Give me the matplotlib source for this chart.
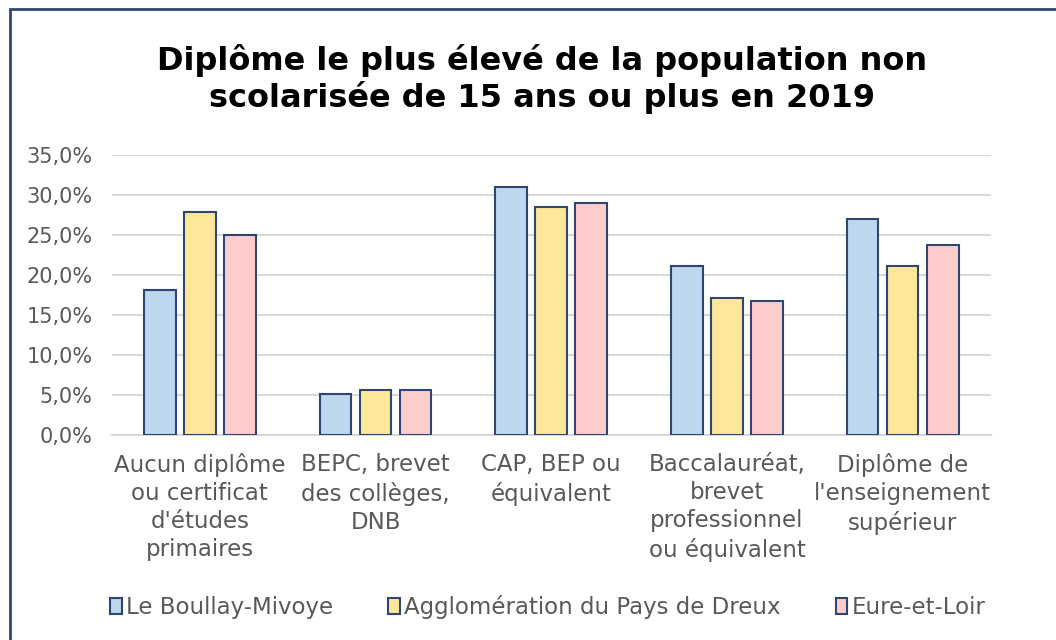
import matplotlib
matplotlib.use("Agg")
import matplotlib.pyplot as plt
import numpy as np
from matplotlib.patches import Rectangle, Patch

categories = [
    "Aucun diplôme\nou certificat\nd'études\nprimaires",
    "BEPC, brevet\ndes collèges,\nDNB",
    "CAP, BEP ou\néquivalent",
    "Baccalauréat,\nbrevet\nprofessionnel\nou équivalent",
    "Diplôme de\nl'enseignement\nsupérieur",
]
series_names = ["Le Boullay-Mivoye", "Agglomération du Pays de Dreux", "Eure-et-Loir"]
boullay = [18.1, 5.1, 31.0, 21.1, 27.0]
dreux = [27.9, 5.6, 28.5, 17.1, 21.1]
eure = [25.0, 5.6, 29.0, 16.7, 23.7]
yticks = [0, 5, 10, 15, 20, 25, 30, 35]

colors = ["#bdd7ee", "#ffe699", "#ffcccc"]
edge = "#2f4670"
grey = "#595959"

plt.rcParams["font.family"] = ["DejaVu Sans"]

fig = plt.figure(figsize=(10.56, 6.4), dpi=100)
ax = fig.add_axes([0.106, 0.320, 0.832, 0.438])

x = np.arange(len(categories))
w = 0.18
step = 0.228
for i, (vals, c, name) in enumerate(zip([boullay, dreux, eure], colors, series_names)):
    ax.bar(x + (i - 1) * step, vals, width=w, color=c, edgecolor=edge, linewidth=1.5,
           label=name, zorder=3)

ax.set_xlim(-0.5, len(categories) - 0.5)
ax.set_ylim(0, 35)
ax.set_yticks(yticks)
ax.set_yticklabels([f"{v:.1f}%".replace(".", ",") for v in yticks], color=grey, fontsize=15)
ax.set_xticks(x)
ax.set_xticklabels(categories, color=grey, fontsize=16.5, linespacing=1.28)
ax.tick_params(axis="y", length=0, pad=14)
ax.tick_params(axis="x", length=0, pad=13)
ax.grid(axis="y", color="#d9d9d9", linewidth=1.5, zorder=0)
for s in ["top", "right", "left"]:
    ax.spines[s].set_visible(False)
ax.spines["bottom"].set_color("#d9d9d9")
ax.spines["bottom"].set_linewidth(1.5)

fig.text(0.513, 0.877, "Diplôme le plus élevé de la population non\nscolarisée de 15 ans ou plus en 2019",
         ha="center", va="center", fontsize=23, fontweight="bold", color="black", linespacing=1.15)

handles = [Patch(facecolor=c, edgecolor=edge, linewidth=1.5) for c in colors]
fig.legend(handles, series_names, loc="center", bbox_to_anchor=(0.519, 0.051), ncol=3,
           frameon=False, fontsize=16.5, handlelength=0.5, handleheight=0.7,
           handletextpad=0.2, columnspacing=2.4, labelcolor=grey)

# outer chart frame
fig.patches.append(Rectangle((10 / 1056, -0.1), 1.2, 1 - 9 / 640 + 0.1, transform=fig.transFigure,
                             fill=False, edgecolor=edge, linewidth=2))

fig.savefig("out.png", dpi=100)
